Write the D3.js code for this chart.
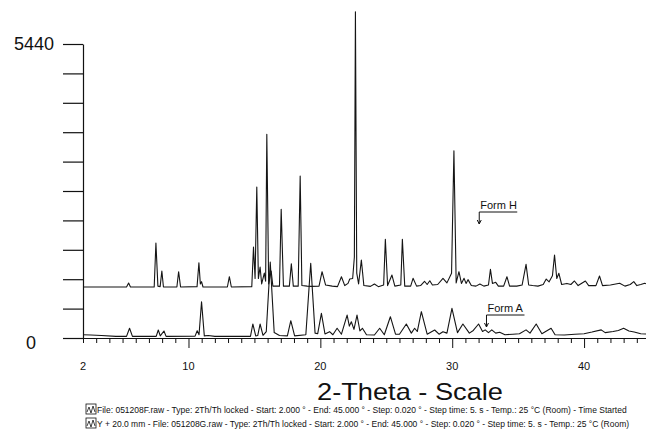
<!DOCTYPE html>
<html>
<head>
<meta charset="utf-8">
<script src="https://cdn.jsdelivr.net/npm/d3@7"></script>
<style>
  body { margin: 0; background: #fff; }
  svg { display: block; font-family: "Liberation Sans", Arial, sans-serif; }
</style>
</head>
<body>
<svg id="chart" width="646" height="431"></svg>
<script>
// values: [2-theta (deg), counts]
const formA = [
  [2.0, 60], [2.6, 55], [3.4, 45], [4.5, 30], [5.3, 30], [5.53, 180], [5.75, 30],
  [7.55, 30], [7.71, 148], [7.86, 40], [8.14, 130], [8.3, 30],
  [10.5, 35], [10.66, 135], [10.8, 60], [10.99, 672], [11.2, 40], [11.5, 45], [12.0, 30],
  [14.7, 30], [14.88, 259], [15.1, 40], [15.25, 45], [15.43, 259], [15.65, 50], [15.9, 120],
  [16.2, 1406], [16.5, 100], [16.9, 45], [17.5, 40], [17.76, 320], [18.05, 40], [18.9, 60],
  [19.27, 1382], [19.6, 90], [19.8, 80], [20.08, 457], [20.35, 75], [20.7, 117], [20.95, 60],
  [21.27, 180], [21.6, 70], [22.03, 425], [22.2, 220], [22.35, 301], [22.55, 160], [22.78, 425],
  [23.0, 130], [23.19, 180], [23.5, 60], [24.1, 55], [24.5, 180], [24.85, 60], [25.31, 394],
  [25.7, 70], [26.0, 70], [26.52, 259], [26.9, 90], [27.15, 180], [27.35, 120], [27.66, 487],
  [28.1, 70], [28.67, 148], [29.0, 70], [29.3, 117], [29.6, 90], [29.98, 549], [30.4, 100],
  [30.81, 259], [31.3, 90], [31.6, 140], [32.0, 259], [32.3, 120], [32.5, 150], [32.75, 100],
  [33.0, 150], [33.3, 90], [33.6, 105], [34.0, 60], [34.6, 70], [35.1, 80], [35.6, 150],
  [35.9, 90], [36.37, 259], [36.8, 80], [37.5, 180], [37.8, 60], [38.5, 55], [39.3, 70],
  [40.0, 80], [40.6, 110], [41.3, 150], [41.6, 100], [42.2, 120], [42.6, 140], [43.0, 180],
  [43.4, 130], [43.8, 110], [44.3, 80], [45.0, 70]
];

// second file, drawn with the Y + 20.0 mm shift
const formHOffset = 900;
const formH = [
  [2.0, 44], [5.3, 44], [5.46, 118], [5.6, 44],
  [7.4, 44], [7.53, 858], [7.68, 60], [7.85, 50], [7.98, 340], [8.1, 44],
  [9.12, 44], [9.25, 327], [9.4, 44],
  [10.65, 50], [10.79, 493], [10.9, 100], [10.99, 142], [11.1, 44],
  [12.95, 44], [13.1, 234], [13.25, 44],
  [14.8, 50], [14.93, 784], [15.05, 200], [15.18, 1894], [15.3, 200], [15.43, 414], [15.55, 100],
  [15.75, 300], [15.85, 150], [15.94, 2868], [16.08, 100], [16.27, 340], [16.4, 60],
  [16.9, 60], [17.03, 1481], [17.2, 60], [17.65, 60], [17.8, 475], [17.95, 60],
  [18.32, 60], [18.47, 2097], [18.6, 70], [19.0, 60], [19.3, 55], [19.9, 60], [20.13, 327],
  [20.4, 80], [20.9, 60], [21.3, 50], [21.6, 234], [21.85, 70], [22.1, 110], [22.23, 192],
  [22.45, 200], [22.58, 600], [22.66, 5137], [22.76, 300], [22.9, 100], [23.11, 543], [23.3, 70],
  [23.8, 55], [24.1, 100], [24.4, 50], [24.8, 80], [24.93, 926], [25.1, 70], [25.43, 265],
  [25.65, 60], [26.1, 80], [26.22, 926], [26.4, 60], [26.85, 60], [27.03, 204], [27.3, 60],
  [27.6, 70], [27.9, 150], [28.1, 90], [28.3, 160], [28.5, 80], [28.9, 90], [29.3, 204],
  [29.6, 120], [29.95, 300], [30.13, 2565], [30.3, 120], [30.51, 327], [30.7, 110], [30.9, 204],
  [31.05, 110], [31.2, 180], [31.45, 70], [31.8, 60], [32.1, 100], [32.4, 60], [32.75, 80],
  [32.9, 371], [33.05, 110], [33.3, 130], [33.5, 60], [33.9, 60], [34.15, 234], [34.35, 60],
  [34.9, 60], [35.3, 80], [35.6, 463], [35.8, 80], [36.1, 70], [36.5, 60], [36.9, 90],
  [37.13, 190], [37.35, 140], [37.6, 250], [37.76, 636], [37.93, 200], [38.09, 297], [38.3, 90],
  [38.7, 110], [39.0, 90], [39.27, 155], [39.55, 70], [40.1, 155], [40.35, 70], [40.9, 70],
  [41.17, 247], [41.4, 70], [42.0, 80], [42.7, 112], [43.1, 60], [43.5, 90], [43.77, 142],
  [44.0, 70], [44.3, 90], [44.6, 112], [45.0, 80]
];

const yTicks = d3.range(0, 5441, 544);
const xTicks = d3.range(2, 46);
const xLabels = [2, 10, 20, 30, 40];

const legendLines = [
  "File: 051208F.raw - Type: 2Th/Th locked - Start: 2.000 \u00b0 - End: 45.000 \u00b0 - Step: 0.020 \u00b0 - Step time: 5. s - Temp.: 25 \u00b0C (Room) - Time Started",
  "Y + 20.0 mm - File: 051208G.raw - Type: 2Th/Th locked - Start: 2.000 \u00b0 - End: 45.000 \u00b0 - Step: 0.020 \u00b0 - Step time: 5. s - Temp.: 25 \u00b0C (Room)"
];

const svg = d3.select("#chart");

const x = d3.scaleLinear().domain([2, 45]).range([83, 650]);
const y = d3.scaleLinear().domain([0, 5440]).range([338, 44]);

// y axis: ticks only, the two end labels are drawn big
const yAxis = svg.append("g")
  .attr("transform", "translate(83,0)")
  .call(d3.axisLeft(y).tickValues(yTicks).tickSize(20).tickSizeOuter(0).tickFormat(""));
yAxis.selectAll("line, path").attr("stroke", "#111").attr("stroke-width", 1.2);

svg.append("text").attr("x", 54).attr("y", y(5440) + 6).attr("text-anchor", "end")
  .attr("font-size", 18).attr("fill", "#111").text("5440");
svg.append("text").attr("x", 31).attr("y", y(0) + 11).attr("text-anchor", "middle")
  .attr("font-size", 18).attr("fill", "#111").text("0");

// x axis
const xAxis = svg.append("g")
  .attr("transform", "translate(0,338)")
  .call(d3.axisBottom(x).tickValues(xTicks).tickSize(5).tickSizeOuter(0).tickFormat(""));
xAxis.selectAll("path").attr("stroke", "#111").attr("stroke-width", 1.2);
xAxis.selectAll(".tick line")
  .attr("stroke", "#111")
  .attr("y2", d => (d % 10 === 0 ? 10 : 5));

svg.append("g").selectAll("text").data(xLabels).join("text")
  .attr("x", d => x(d)).attr("y", 370).attr("text-anchor", "middle")
  .attr("font-size", 11).attr("fill", "#111").text(d => d);

svg.append("text").attr("x", 410).attr("y", 400).attr("text-anchor", "middle")
  .attr("font-size", 24).attr("textLength", 186).attr("lengthAdjust", "spacingAndGlyphs")
  .attr("fill", "#111").text("2-Theta - Scale");

// traces
const line = d3.line().x(d => x(d[0]));

svg.append("path").datum(formA)
  .attr("fill", "none").attr("stroke", "#151515").attr("stroke-width", 1.1)
  .attr("stroke-linejoin", "round")
  .attr("d", line.y(d => y(d[1])));

svg.append("path").datum(formH)
  .attr("fill", "none").attr("stroke", "#151515").attr("stroke-width", 1.1)
  .attr("stroke-linejoin", "round")
  .attr("d", line.y(d => y(d[1] + formHOffset)));

// annotations
function label(txt, ax, ty, ayTip) {
  const g = svg.append("g").attr("fill", "#111").attr("stroke", "#111");
  g.append("text").attr("x", ax + 1).attr("y", ty).attr("font-size", 11).attr("stroke", "none").text(txt);
  g.append("line").attr("x1", ax).attr("x2", ax + 38).attr("y1", ty + 3).attr("y2", ty + 3);
  g.append("line").attr("x1", ax).attr("x2", ax).attr("y1", ty + 3).attr("y2", ayTip);
  g.append("path").attr("fill", "none")
    .attr("d", `M${ax - 2},${ayTip - 4}L${ax},${ayTip}L${ax + 2},${ayTip - 4}`);
}
label("Form H", x(32.05), 209, 224);
label("Form A", x(32.6), 312, 327);

// legend rows
const legend = svg.append("g").attr("font-size", 8.5).attr("fill", "#111");
legendLines.forEach((t, i) => {
  const ly = 404 + i * 14;
  legend.append("rect").attr("x", 86).attr("y", ly).attr("width", 10).attr("height", 10)
    .attr("fill", "none").attr("stroke", "#111").attr("stroke-width", 0.8);
  legend.append("path").attr("fill", "none").attr("stroke", "#111").attr("stroke-width", 0.8)
    .attr("d", `M87,${ly + 8}L89,${ly + 3}L91,${ly + 9}L93,${ly + 2}L95,${ly + 8}`);
  legend.append("text").attr("x", 97).attr("y", ly + 8.5).text(t);
});
</script>
</body>
</html>
